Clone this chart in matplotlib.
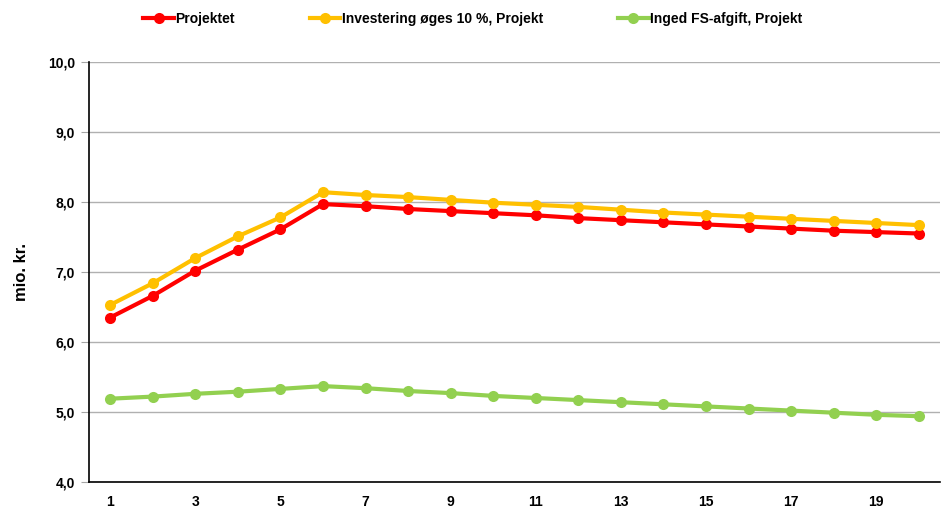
import matplotlib
matplotlib.use("Agg")
import matplotlib.pyplot as plt

plt.rcParams['font.family'] = ['Liberation Sans', 'DejaVu Sans']

years = list(range(1, 21))
projektet = [6.35, 6.66, 7.02, 7.32, 7.61, 7.97, 7.94, 7.90, 7.87, 7.84,
             7.81, 7.77, 7.74, 7.71, 7.68, 7.65, 7.62, 7.59, 7.57, 7.55]
investering = [6.53, 6.84, 7.20, 7.51, 7.78, 8.14, 8.10, 8.07, 8.03, 7.99,
               7.96, 7.93, 7.89, 7.85, 7.82, 7.79, 7.76, 7.73, 7.70, 7.67]
inged_fs = [5.19, 5.22, 5.26, 5.29, 5.33, 5.37, 5.34, 5.30, 5.27, 5.23,
            5.20, 5.17, 5.14, 5.11, 5.08, 5.05, 5.02, 4.99, 4.96, 4.94]
series_names = ["Projektet", "Investering øges 10 %, Projekt", "Inged FS-afgift, Projekt"]
series_colors = ["#ff0000", "#ffc000", "#92d050"]
y_ticks = [4, 5, 6, 7, 8, 9, 10]
x_ticks = [1, 3, 5, 7, 9, 11, 13, 15, 17, 19]

fig = plt.figure(figsize=(9.42, 5.11), dpi=100)
ax = fig.add_axes([89 / 942, 1 - 482 / 511, (940 - 89) / 942, (482 - 62) / 511])

handles = []
for vals, name, col in zip([projektet, investering, inged_fs], series_names, series_colors):
    h, = ax.plot(years, vals, color=col, lw=3, marker='o', ms=8,
                 markeredgewidth=0, label=name, zorder=3)
    handles.append(h)

ax.set_xlim(0.5, 20.5)
ax.set_ylim(4, 10)
ax.set_yticks(y_ticks)
ax.set_yticklabels([f"{v:.1f}".replace('.', ',') for v in y_ticks],
                   fontsize=10, fontweight='bold')
ax.set_xticks(x_ticks)
ax.set_xticklabels([str(v) for v in x_ticks], fontsize=10, fontweight='bold')
ax.tick_params(axis='y', direction='out', length=6, color='#a6a6a6', pad=4)
ax.tick_params(axis='x', length=0, pad=9)
ax.yaxis.grid(True, color='#b0b0b0', lw=1)
ax.set_axisbelow(True)
for s in ['top', 'right']:
    ax.spines[s].set_visible(False)
for s in ['left', 'bottom']:
    ax.spines[s].set_color('black')
    ax.spines[s].set_linewidth(1.2)

ax.set_ylabel("mio. kr.", fontsize=12, fontweight='bold', labelpad=14)

fig.legend(handles=handles, loc='center', bbox_to_anchor=(0.502, 1 - 19 / 511),
           ncol=3, frameon=False, prop={'weight': 'bold', 'size': 10},
           handlelength=2.2, handletextpad=0.1, columnspacing=5.4)

fig.savefig("out.png", dpi=100)
